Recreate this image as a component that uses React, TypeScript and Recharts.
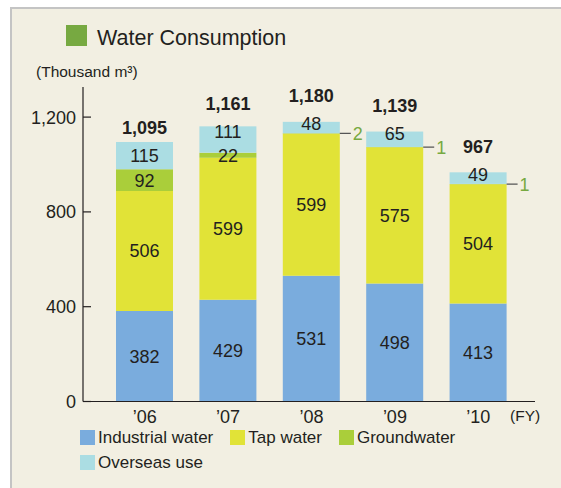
import React from "react";
import { Bar, BarChart, Legend, XAxis, YAxis } from "recharts";

const years = ["’06", "’07", "’08", "’09", "’10"];
const industrial = [382, 429, 531, 498, 413];
const tap = [506, 599, 599, 575, 504];
const ground = [92, 22, 2, 1, 1];
const overseas = [115, 111, 48, 65, 49];
const totals = [1095, 1161, 1180, 1139, 967];
const yTicks = [0, 400, 800, 1200];
const seriesNames = ["Industrial water", "Tap water", "Groundwater", "Overseas use"];

const data = years.map((year, i) => ({
  year,
  industrial: industrial[i],
  tap: tap[i],
  ground: ground[i],
  overseas: overseas[i],
  total: totals[i],
}));

const FONT = '"Liberation Sans", Arial, Helvetica, sans-serif';
const INK = "#231f20";
const GREEN_TEXT = "#77a941";

const fmt = (v: number) => v.toLocaleString("en-US");

// the topmost segment draws its own rect plus every label of the column,
// so no label gets covered by a later series
const TopShape = (props: any) => {
  const { x, y, width, height, payload, fill } = props;
  const ppu = height / payload.overseas;
  const cx = x + width / 2;
  const gTop = y + height;
  const gH = payload.ground * ppu;
  const tTop = gTop + gH;
  const tH = payload.tap * ppu;
  const iTop = tTop + tH;
  const iH = payload.industrial * ppu;

  const groundInside = payload.ground >= 10;
  let oCy = y + height / 2;
  if (groundInside && gH < 18) oCy = y + 5;
  else if (height < 20) oCy = y + 2;
  const totalCy = Math.min(y - 14, oCy - 28);

  const txt = { fontFamily: FONT, fontSize: 18, fill: INK } as const;
  return (
    <g>
      <rect x={x} y={y} width={width} height={height} fill={fill} />
      <text x={cx} y={iTop + iH / 2} dy="0.36em" textAnchor="middle" {...txt}>
        {fmt(payload.industrial)}
      </text>
      <text x={cx} y={tTop + tH / 2} dy="0.36em" textAnchor="middle" {...txt}>
        {fmt(payload.tap)}
      </text>
      {groundInside ? (
        <text x={cx} y={gTop + gH / 2} dy="0.36em" textAnchor="middle" {...txt}>
          {payload.ground}
        </text>
      ) : (
        <g>
          <line
            x1={x + width}
            x2={x + width + 11}
            y1={gTop + gH / 2}
            y2={gTop + gH / 2}
            stroke="#555"
            strokeWidth={1.2}
          />
          <text
            x={x + width + 13}
            y={gTop + gH / 2}
            dy="0.36em"
            fontFamily={FONT}
            fontSize={18}
            fill={GREEN_TEXT}
          >
            {payload.ground}
          </text>
        </g>
      )}
      <text x={cx} y={oCy} dy="0.36em" textAnchor="middle" {...txt}>
        {payload.overseas}
      </text>
      <text
        x={cx}
        y={totalCy}
        dy="0.36em"
        textAnchor="middle"
        {...txt}
        fontWeight="bold"
      >
        {fmt(payload.total)}
      </text>
    </g>
  );
};

const YTick = (props: any) => {
  const { x, y, payload } = props;
  return (
    <g>
      <line x1={x} x2={x + 8} y1={y} y2={y} stroke={INK} strokeWidth={1.2} />
      <text
        x={x - 7}
        y={y}
        dy="0.36em"
        textAnchor="end"
        fontFamily={FONT}
        fontSize={18}
        fill={INK}
      >
        {fmt(payload.value)}
      </text>
    </g>
  );
};

const XTick = (props: any) => {
  const { x, y, payload } = props;
  return (
    <text
      x={x}
      y={y + 15.5}
      dy="0.36em"
      textAnchor="middle"
      fontFamily={FONT}
      fontSize={18}
      fill={INK}
    >
      {payload.value}
    </text>
  );
};

const renderLegend = (props: any) => {
  const items = [...(props.payload || [])].sort(
    (a: any, b: any) => seriesNames.indexOf(a.value) - seriesNames.indexOf(b.value)
  );
  return (
    <div style={{ display: "flex", flexWrap: "wrap", width: 420 }}>
      {items.map((p: any) => (
        <div
          key={p.value}
          style={{
            display: "flex",
            alignItems: "center",
            height: 25,
            marginRight: 17,
            fontFamily: FONT,
            fontSize: 17,
            color: INK,
          }}
        >
          <span
            style={{
              width: 15,
              height: 15,
              background: p.color,
              marginRight: 3,
              display: "inline-block",
            }}
          />
          <span>{p.value}</span>
        </div>
      ))}
    </div>
  );
};

export default function App() {
  return (
    <div
      style={{
        position: "fixed",
        left: 0,
        top: 0,
        width: 561,
        height: 488,
        background: "#fff",
        overflow: "hidden",
      }}
    >
      <div
        style={{
          position: "absolute",
          left: 10,
          top: 7,
          width: 600,
          height: 520,
          borderLeft: "2px solid #c4c4c4",
          borderTop: "2px solid #c4c4c4",
          background: "#f2efe2",
        }}
      />
      <svg
        width={561}
        height={488}
        style={{ position: "absolute", left: 0, top: 0 }}
      >
        <rect x={66} y={25} width={21} height={21} fill="#77a941" />
        <text x={97} y={45} fontFamily={FONT} fontSize={21.5} fill={INK}>
          Water Consumption
        </text>
        <text x={36} y={77} fontFamily={FONT} fontSize={15.5} fill={INK}>
          (Thousand m³)
        </text>
        <text x={510} y={421} fontFamily={FONT} fontSize={15.5} fill={INK}>
          (FY)
        </text>
      </svg>
      <div style={{ position: "absolute", left: 0, top: 0 }}>
        <BarChart
          width={561}
          height={488}
          data={data}
          margin={{ top: 87, right: 26, bottom: 56.5, left: 0 }}
        >
          <XAxis
            dataKey="year"
            height={30}
            tickLine={false}
            tickSize={0}
            tickMargin={0}
            axisLine={{ stroke: INK, strokeWidth: 1.2 }}
            tick={<XTick />}
            padding={{ left: 20, right: 15 }}
          />
          <YAxis
            width={83}
            domain={[0, 1327]}
            ticks={yTicks}
            allowDataOverflow
            tickLine={false}
            tickSize={0}
            tickMargin={0}
            axisLine={{ stroke: INK, strokeWidth: 1.2 }}
            tick={<YTick />}
          />
          <Legend
            layout="horizontal"
            verticalAlign="middle"
            align="center"
            content={renderLegend}
            wrapperStyle={{ left: 80, top: 425, width: 420 }}
          />
          <Bar
            dataKey="industrial"
            name={seriesNames[0]}
            stackId="a"
            fill="#7aacdd"
            barSize={57}
            isAnimationActive={false}
          />
          <Bar
            dataKey="tap"
            name={seriesNames[1]}
            stackId="a"
            fill="#e1e337"
            barSize={57}
            isAnimationActive={false}
          />
          <Bar
            dataKey="ground"
            name={seriesNames[2]}
            stackId="a"
            fill="#aace3a"
            barSize={57}
            isAnimationActive={false}
          />
          <Bar
            dataKey="overseas"
            name={seriesNames[3]}
            stackId="a"
            fill="#abdde3"
            barSize={57}
            isAnimationActive={false}
            shape={<TopShape />}
          />
        </BarChart>
      </div>
    </div>
  );
}
